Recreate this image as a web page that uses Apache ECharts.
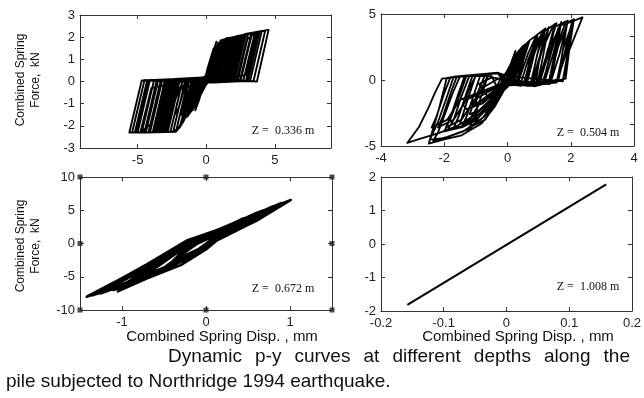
<!DOCTYPE html>
<html lang="en">
<head>
<meta charset="UTF-8">
<title>Dynamic p-y curves</title>
<script src="https://cdn.jsdelivr.net/npm/echarts@6/dist/echarts.min.js"></script>
<style>html,body{margin:0;padding:0;background:#fff;}</style>
</head>
<body>
<div id="main" style="width:644px;height:398px;"></div>
<script>
// p-y loops (disp mm, force kN)
var tlPath = [
  [0,0],[0.25,0.3],[0.7,1.2],[0.35,0.05],[0.0,0.15],[-0.5,-0.5],[-0.9,-1.0],[-0.1,0.15],
  [0.3,0.05],[1.05,1.85],[1.3,1.9],[0.45,0.02],[-0.2,0.18],[-0.7,0.15],[-1.3,-1.4],[-1.6,-1.7],[-0.7,0.12],
  [0.2,0.0],[0.6,0.02],[1.45,1.95],[1.8,1.98],[0.95,0.02],[-0.3,0.18],[-1.0,0.12],[-1.9,-2.05],[-2.2,-2.25],[-1.3,0.1],
  [0.3,-0.05],[0.9,0.02],[1.75,1.97],[2.3,2.05],[1.45,0.02],[-0.3,0.18],[-1.3,0.12],[-2.2,-2.27],[-3.0,-2.28],[-2.1,0.08],
  [0.4,-0.05],[1.3,0.02],[2.15,2.03],[2.9,2.14],[2.05,0.02],[-0.3,0.18],[-2.0,0.1],[-2.9,-2.28],[-4.4,-2.3],[-3.5,0.06],
  [0.4,-0.05],[2.0,0.02],[2.85,2.15],[3.8,2.25],[2.95,0.02],[-0.3,0.18],[-3.0,0.08],[-3.9,-2.3],[-5.6,-2.3],[-4.7,0.05],
  [0.5,-0.05],[2.9,0.02],[3.75,2.25],[4.55,2.33],[3.7,0.0],[-0.3,0.18],[-3.6,0.07],[-4.5,-2.3],[-5.2,-2.3],[-4.3,0.06],
  [0.4,-0.05],[2.5,0.02],[3.35,2.19],[3.9,2.26],[3.05,0.02],[-0.3,0.18],[-2.6,0.09],[-3.5,-2.28],[-4.1,-2.3],[-3.2,0.07],
  [0.4,-0.05],[1.8,0.02],[2.65,2.1],[3.3,2.17],[2.45,0.02],[-0.3,0.18],[-2.2,0.1],[-3.1,-2.28],[-3.6,-2.28],[-2.7,0.08],
  [0.3,-0.05],[1.5,0.02],[2.35,2.06],[2.7,2.1],[1.85,0.02],[-0.3,0.18],[-1.7,0.12],[-2.6,-2.26],[-3.3,-2.28],[-2.4,0.09],
  [0.3,-0.05],[1.1,0.02],[1.95,2.0],[2.45,2.07],[1.6,0.02],[-0.3,0.18],[-1.5,0.12],[-2.4,-2.25],[-2.8,-2.27],[-1.9,0.1],
  [0.3,-0.05],[0.8,0.02],[1.65,1.96],[2.0,2.0],[1.15,0.02],[-0.2,0.18],[-1.0,0.14],[-1.8,-1.95],[-2.4,-2.25],[-1.5,0.12],
  [0.2,0.0],[0.5,0.05],[1.3,1.9],[1.6,1.95],[0.8,0.05],[-0.2,0.2],[-0.7,0.15],[-1.5,-1.6],[-1.9,-2.0],[-1.0,0.14],
  [0.1,0.1],[0.7,1.4],[1.0,1.6],[0.3,0.1],[-0.3,-0.2],[-1.0,-1.1],[-1.2,-1.3],[-0.4,0.1],
  [0.2,0.2],[0.6,1.0],[0.2,0.1],[-0.3,-0.3],[-0.8,-0.85],[-0.2,0.1],[0,0],
  [0.4,0.9],[0.8,1.6],[0.5,0.4],[0.1,0.0],[-0.4,-0.6],[-1.0,-1.3],[-0.6,-0.3],[0,0.1],
  [0.3,0.6],[0.6,1.3],[0.3,0.3],[-0.2,-0.3],[-0.7,-1.0],[-1.4,-1.6],[-0.9,-0.5],[-0.2,0.1],
  [0.35,0.2],[0.85,1.55],[1.2,1.85],[0.5,0.15],[0,0.05],[-0.5,-0.2],[-1.1,-1.0],[-1.8,-1.9],[-1.2,-0.6],[-0.4,0.05],
  [0.2,0.15],[0.55,0.9],[0.9,1.6],[0.6,0.5],[0.2,0.1],[-0.6,0.1],[-1.2,-1.2],[-1.7,-1.85],[-1.0,0.0],[-0.3,0.15],
  [0.6,0.03],[1.2,0.05],[1.9,1.7],[2.2,2.0],[1.5,0.2],[0.5,0.0],[-0.3,0.15],[-2.0,0.05],[-2.7,-1.8],[-3.3,-2.25],[-2.6,-0.6],[-1.5,-0.1],[-0.5,0.1],
  [0.5,0.03],[2.3,0.05],[3.0,1.9],[3.6,2.2],[2.9,0.3],[0.7,0.0],[-0.3,0.15],[-3.3,0.05],[-4.0,-1.9],[-4.8,-2.3],[-4.0,-0.3],[-1.0,0.1],
  [0.3,0.1],[1.0,0.5],[1.5,1.8],[1.1,0.6],[0.4,0.2],[-0.3,-0.1],[-1.2,-0.3],[-1.7,-1.4],[-1.0,-0.6],[-0.2,0],
  [0.5,0.4],[1.4,0.3],[1.9,1.2],[1.5,0.3],[0.3,0.1],[-0.8,-0.2],[-2.2,-0.3],[-2.6,-1.4],[-2.0,-0.4],[-0.5,0.0],
  [0.2,0.3],[0.5,0.7],[0.9,1.2],[0.4,0.2],[-0.3,-0.4],[-0.6,-0.9],[-1.1,-0.8],[-0.5,-0.1],[0,0],
  [0.4,-0.03],[3.2,0.02],[4.05,2.26],[4.3,2.29],[3.45,0.02],[0.4,-0.03],[2.7,0.02],[3.55,2.19],[3.8,2.23],[2.95,0.02],
  [0.4,-0.03],[2.2,0.02],[3.05,2.12],[3.3,2.16],[2.45,0.02],[0.4,-0.03],[1.7,0.02],[2.55,2.06],[2.8,2.1],[1.95,0.02],
  [0.4,-0.03],[1.2,0.02],[2.05,1.99],[2.3,2.03],[1.45,0.02],[0.4,-0.03],[0.7,0.02],[1.55,1.92],[1.8,1.96],[0.95,0.02],
  [-0.3,0.15],[-4.2,0.06],[-5.1,-2.3],[-5.4,-2.3],[-4.5,0.06],[-0.3,0.15],[-3.8,0.07],[-4.7,-2.3],[-5.0,-2.3],[-4.1,0.07],
  [-0.3,0.15],[-3.3,0.08],[-4.2,-2.29],[-4.5,-2.3],[-3.6,0.08],[-0.3,0.15],[-2.9,0.09],[-3.8,-2.28],[-4.1,-2.29],[-3.2,0.09],
  [-0.3,0.15],[-2.5,0.1],[-3.4,-2.28],[-3.7,-2.28],[-2.8,0.1],[-0.3,0.15],[-2.0,0.11],[-2.9,-2.27],[-3.2,-2.28],[-2.3,0.11],
  [-0.3,0.15],[-1.7,0.12],[-2.3,-1.5],[-2.0,-1.2],[-1.4,0.12],[-0.3,0.15],[-1.2,0.13],[-1.8,-1.5],[-1.5,-1.2],[-0.9,0.14],
  [-0.3,0.15],[-0.8,0.14],[-1.4,-1.4],[-1.1,-1.0],[-0.5,0.15],[0,0.1],[0.6,0.9],[1.1,1.7],[0.7,0.6],[0,0],
  [0.2,0.4],[0.7,1.5],[0.4,0.5],[-0.3,-0.4],[-0.9,-1.1],[-0.4,-0.2],[0.1,0.3],[0.5,1.1],[0.9,1.75],[0.5,0.7],
  [-0.1,-0.1],[-0.6,-0.8],[-1.2,-1.4],[-0.7,-0.6],[0,0],
  [0.15,0.5],[0.45,1.3],[0.2,0.6],[-0.2,-0.1],[-0.5,-0.8],[-0.8,-1.3],[-0.35,-0.5],[0.05,0.4],[0.35,1.0],[0.75,1.8],
  [0.3,0.8],[-0.1,0.2],[-0.4,-0.3],[-0.9,-0.7],[-1.3,-1.2],[-0.6,-0.4],[-0.1,0.05],[0.1,0.6],[0.55,1.5],[0.25,0.4],[0,0]
];
var trPath = [
  [0,0],[0.15,1.2],[0.35,2.1],[0.2,0.8],[0.05,-0.2],[-0.3,-1.4],[-0.5,-2.0],[-0.3,-0.8],[-0.1,0.4],
  [0.1,1.0],[0.3,2.0],[0.7,3.0],[0.45,1.5],[0.3,-0.2],[0,-0.3],
  [-0.3,0.5],[-0.7,0.45],[-0.95,-1.0],[-1.2,-2.6],[-0.9,-2.3],[-0.5,-1.4],[-0.1,-0.2],
  [0.2,-0.35],[0.45,1.8],[0.7,3.0],[1.2,3.9],[0.95,2.0],[0.75,-0.1],[0.3,-0.4],[0,0.3],[-0.3,0.55],
  [-1.2,0.35],[-1.45,-1.2],[-1.7,-3.0],[-1.9,-3.8],[-1.4,-3.5],[-0.9,-2.8],[-0.4,-1.6],[0,-0.2],
  [0.5,-0.4],[0.8,2.2],[1.1,3.6],[1.55,4.3],[1.25,2.1],[1.05,-0.05],[0.4,-0.45],[0,0.3],[-0.3,0.55],
  [-1.5,0.3],[-1.75,-1.1],[-1.95,-2.4],[-2.2,-4.0],[-2.35,-4.6],[-1.9,-4.3],[-1.2,-3.7],[-0.6,-2.5],[-0.2,-1.0],[0,-0.2],
  [0.8,-0.4],[1.1,2.3],[1.4,3.9],[1.85,4.45],[1.5,2.2],[1.35,0.0],[0.6,-0.45],[0,0.3],[-0.3,0.55],
  [-2.07,0.1],[-2.3,-1.0],[-2.49,-2.05],[-2.8,-3.56],[-3.17,-4.77],[-2.75,-4.44],[-2.2,-4.05],[-1.6,-3.5],[-1.0,-2.6],[-0.5,-1.5],[0,-0.3],
  [1.3,-0.25],[1.6,2.5],[1.9,4.3],[2.37,4.75],[1.95,2.25],[1.84,0.1],[0.85,-0.48],[0,0.3],[-0.3,0.55],
  [-1.92,0.15],[-2.18,-2.3],[-2.49,-4.82],[-2.0,-4.5],[-1.45,-4.19],[-0.82,-3.3],[-0.41,-2.05],[0,-0.3],
  [1.0,-0.3],[1.35,2.4],[1.65,4.1],[2.1,4.6],[1.75,2.3],[1.6,0.05],[0.7,-0.45],[0,0.3],[-0.3,0.55],
  [-1.7,0.25],[-1.95,-1.5],[-2.2,-3.2],[-2.45,-4.5],[-2.0,-4.4],[-1.4,-3.9],[-0.8,-2.9],[-0.3,-1.4],[0,-0.3],
  [0.6,-0.4],[0.9,2.5],[1.2,3.9],[1.0,1.5],[0.9,-0.2],[0.3,-0.4],[0,0.3],[-0.3,0.5],
  [-1.0,0.4],[-1.25,-1.4],[-1.5,-3.3],[-1.1,-3.0],[-0.6,-2.0],[-0.2,-0.6],[0,0],
  [0.1,0.8],[0.25,1.9],[0.5,2.6],[0.3,1.1],[0.1,-0.3],[-0.2,-1.0],[-0.45,-1.8],[-0.7,-2.4],[-0.5,-1.3],[-0.2,0.2],
  [0.05,0.6],[0.3,1.6],[0.55,2.7],[0.35,1.0],[0.2,-0.3],[-0.3,0.1],[-0.8,-0.6],[-1.1,-1.8],[-0.8,-1.6],[-0.3,-0.9],[0,0],
  [0.4,-0.4],[0.65,1.5],[0.95,3.3],[0.75,1.3],[0.6,-0.3],[0.1,-0.4],[-0.3,0.5],
  [-0.6,0.45],[-0.85,-0.8],[-1.05,-1.9],[-0.7,-1.5],[-0.3,-0.7],[-0.5,0.3],[-1.3,0.3],[-1.55,-1.4],[-1.8,-2.9],[-2.0,-3.9],[-1.5,-3.6],[-0.9,-2.6],[-0.3,-1.2],[0,0],
  [1.1,-0.3],[1.35,1.8],[1.6,3.9],[1.45,1.5],[1.3,-0.2],[0.5,-0.4],
  [1.6,-0.1],[1.8,2.0],[2.05,4.5],[1.9,2.0],[1.75,0.0],[0.5,-0.4],[0,0],
  [-0.3,0.5],[-1.0,0.35],[-1.2,-0.6],[-1.4,-1.9],[-1.3,-2.2],[-0.8,-1.8],[-0.2,-0.6],[0.1,0.4],[0.3,1.5],[0.6,2.2],[0.25,0.3],[0,0],
  [0.3,-0.4],[0.15,-0.3],[0.45,2.0],[0.7,3.0],[0.5,1.5],[0.35,-0.2],[0.3,-0.4],[0.35,-0.3],[0.65,2.0],[0.9,3.3],[0.7,1.5],[0.55,-0.2],
  [0.3,-0.4],[0.55,-0.3],[0.85,2.0],[1.1,3.6],[0.9,1.5],[0.75,-0.2],[0.3,-0.4],[0.75,-0.3],[1.05,2.0],[1.3,4.0],[1.1,1.5],[0.95,-0.2],
  [0.3,-0.4],[0.95,-0.3],[1.25,2.0],[1.5,4.25],[1.3,1.5],[1.15,-0.2],[0.3,-0.4],[1.15,-0.3],[1.45,2.0],[1.7,4.4],[1.5,1.5],[1.35,-0.2],
  [0.3,-0.4],[1.35,-0.3],[1.65,2.0],[1.9,4.5],[1.7,1.5],[1.55,-0.2],[0.3,-0.4],[1.55,-0.2],[1.85,2.0],[2.1,4.6],[1.9,1.5],[1.75,-0.1],
  [0,0.3],[-0.3,0.5],[-0.6,0.45],[-0.8,-1.0],[-1.05,-2.8],[-1.2,-3.6],[-0.7,-3.0],[-0.3,-1.5],[-0.1,-0.2],
  [-0.3,0.5],[-0.85,0.42],[-1.05,-1.0],[-1.3,-2.8],[-1.45,-3.6],[-0.95,-3.0],[-0.55,-1.5],[-0.1,-0.2],
  [-0.3,0.5],[-1.1,0.37],[-1.3,-1.0],[-1.55,-2.8],[-1.7,-3.6],[-1.2,-3.0],[-0.8,-1.5],[-0.1,-0.2],
  [-0.3,0.5],[-1.35,0.32],[-1.55,-1.0],[-1.8,-2.8],[-1.95,-3.6],[-1.45,-3.0],[-1.05,-1.5],[-0.1,-0.2],
  [-0.3,0.5],[-1.6,0.27],[-1.8,-1.0],[-2.05,-2.8],[-2.2,-3.6],[-1.7,-3.0],[-1.3,-1.5],[-0.1,-0.2],
  [-0.3,0.5],[-1.8,0.22],[-2.0,-1.0],[-2.25,-2.8],[-2.4,-3.6],[-1.9,-3.0],[-1.5,-1.5],[-0.1,-0.2],[0,0],
  [0.2,1.4],[0.45,2.4],[0.25,1.0],[0.0,0.0],[-0.25,-1.0],[-0.55,-2.2],[-0.35,-1.0],[-0.1,0.3],[0.1,1.2],[0.25,2.2],
  [0.05,0.7],[-0.15,-0.4],[-0.4,-1.4],[-0.65,-1.2],[-0.9,-0.3],[-0.5,0.2],[0,0]
];
var blPath = [
  [-1.42,-8.0],[-1.0,-5.2],[-0.7,-3.1],[-0.22,0.5],[0.1,1.9],[0.2,2.4],[0.5,4.0],[1.01,6.54],
  [0.6,3.4],[0.3,1.6],[0.15,0.8],[-0.05,-0.9],[-0.4,-3.2],[-0.74,-5.0],[-1.42,-8.0],
  [-1.1,-5.9],[-0.75,-3.5],[-0.3,-0.3],[0.05,1.5],[0.45,3.6],[0.85,5.6],
  [0.5,3.0],[0.2,1.2],[0.0,-0.9],[-0.3,-3.25],[-0.7,-5.25],[-1.05,-7.2],
  [-0.92,-5.9],[-0.6,-3.2],[-0.2,-0.1],[0.15,1.9],[0.6,4.3],
  [0.3,2.0],[0.05,0.2],[-0.25,-2.2],[-0.6,-4.4],[-1.2,-7.2],
  [-0.9,-5.0],[-0.5,-2.3],[-0.15,0.4],[0.2,2.1],[0.75,4.9],
  [0.4,2.4],[0.12,0.6],[-0.15,-1.6],[-0.5,-3.8],[-1.3,-7.6],
  [-0.95,-5.1],[-0.55,-2.5],[-0.25,0.0],[0.1,1.7],[0.6,4.6],[0.95,6.2],
  [0.55,3.1],[0.2,1.0],[-0.1,-1.3],[-0.45,-3.6],[-1.0,-6.5],
  [-0.8,-4.5],[-0.45,-2.0],[-0.1,0.6],[0.3,2.8],
  [0.1,0.9],[-0.15,-1.4],[-0.5,-3.6],[-0.85,-5.5],
  [-0.6,-3.7],[-0.3,-1.0],[0.0,1.0],[0.35,2.7],[0.05,0.4],[-0.2,-1.9],[-0.55,-4.1],
  [-0.35,-2.2],[-0.1,0.0],[0.25,2.0],[0.7,4.4],[0.4,2.2],[0.1,0.3],[-0.2,-1.5],[-0.4,-2.7],
  [-0.3,-1.4],[0.0,0.8],[0.4,3.2],[0.85,5.7],[0.45,2.6],[0.15,0.7],[-0.2,-1.9],[-0.65,-4.7],[-1.35,-7.8],
  [-1.05,-5.6],[-0.65,-2.9],[-0.3,-0.5],[0.05,1.6],[0.5,4.0],[0.9,6.1],
  [0.5,2.8],[0.15,0.6],[-0.15,-1.8],[-0.55,-4.4],[-1.1,-7.0],
  [-0.8,-4.8],[-0.45,-2.3],[-0.2,0.2],[0.15,2.0],[0.45,3.8],
  [0.25,1.6],[0.0,-0.3],[-0.35,-2.9],[-0.7,-5.0],[-1.25,-7.5],
  [-0.85,-4.4],[-0.35,-1.0],[0.05,1.3],[0.55,4.2],[0.8,5.6],[0.35,2.1],[0.05,0.0],[-0.3,-2.6],[-0.65,-4.8]
];
var brPath = [[-0.158,-1.82],[0.159,1.78]];
var blMarks = [[-1.5,10],[-1.5,0],[-1.5,-10],[1.5,10],[1.5,0],[1.5,-10],[0,10],[0,-10]];

var tlXTicks = [-5,0,5], tlYTicks = [-3,-2,-1,0,1,2,3];
var trXTicks = [-4,-2,0,2,4], trYTicks = [-5,0,5];
var trYMinor = [-5,-3.33,-1.67,0,1.67,3.33,5];
var blXTicks = [-1,0,1], blYTicks = [-10,-5,0,5,10];
var brXTicks = [-0.2,-0.1,0,0.1,0.2], brYTicks = [-2,-1,0,1,2];
var zLabels = ['Z =  0.336 m', 'Z =  0.504 m', 'Z =  0.672 m', 'Z =  1.008 m'];
var captionWords = ['Dynamic', 'p-y', 'curves', 'at', 'different', 'depths', 'along', 'the'];
var captionLine2 = 'pile subjected to Northridge 1994 earthquake.';

var myChart = echarts.init(document.getElementById('main'));
var axisCol = '#333';
var lbl = {fontFamily: 'Liberation Sans', fontSize: 13, color: '#222'};

var xAxes = [], yAxes = [];
function addAxes(gi, xr, yr, xt, yt, xt2, yt2) {
    var line = {onZero: false, lineStyle: {color: axisCol, width: 1}};
    xAxes.push({gridIndex: gi, type: 'value', position: 'bottom', min: xr[0], max: xr[1],
        axisLine: line, splitLine: {show: false},
        axisTick: {inside: true, length: 4, customValues: xt, lineStyle: {color: axisCol}},
        axisLabel: Object.assign({customValues: xt, margin: 6}, lbl)});
    xAxes.push({gridIndex: gi, type: 'value', position: 'top', min: xr[0], max: xr[1],
        axisLine: line, splitLine: {show: false},
        axisTick: {inside: true, length: 4, customValues: xt2, lineStyle: {color: axisCol}},
        axisLabel: {show: false}});
    yAxes.push({gridIndex: gi, type: 'value', position: 'left', min: yr[0], max: yr[1],
        axisLine: line, splitLine: {show: false},
        axisTick: {inside: true, length: 4, customValues: yt, lineStyle: {color: axisCol}},
        axisLabel: Object.assign({customValues: yt, margin: 5}, lbl)});
    yAxes.push({gridIndex: gi, type: 'value', position: 'right', min: yr[0], max: yr[1],
        axisLine: line, splitLine: {show: false},
        axisTick: {inside: true, length: 4, customValues: yt2, lineStyle: {color: axisCol}},
        axisLabel: {show: false}});
}
addAxes(0, [-9.2, 9.1], [-3, 3], tlXTicks, tlYTicks, tlXTicks, tlYTicks);
addAxes(1, [-4, 4], [-5, 5], trXTicks, trYTicks, trXTicks, trYMinor);
addAxes(2, [-1.5, 1.5], [-10, 10], blXTicks, blYTicks, blXTicks, blYTicks);
addAxes(3, [-0.2, 0.2], [-2, 2], brXTicks, brYTicks, brXTicks, brYTicks);

function loop(gi, data, w) {
    return {type: 'line', xAxisIndex: gi * 2, yAxisIndex: gi * 2, data: data,
        symbol: 'none', showSymbol: false, animation: false,
        lineStyle: {color: '#000', width: w, join: 'round'}};
}

var yName = 'Combined Spring\nForce,  kN';
var xName = 'Combined Spring Disp. , mm';
function txt(x, y, s, font, extra) {
    return Object.assign({type: 'text', x: x, y: y, silent: true,
        style: {text: s, font: font, fill: '#111', textAlign: 'center', textVerticalAlign: 'middle',
            align: 'center', verticalAlign: 'middle', lineHeight: 15}}, extra || {});
}

// justified first caption line, spread from x=168 to x=630
var capFont = '19px "Liberation Sans"';
var ctx = document.createElement('canvas').getContext('2d');
ctx.font = capFont;
var wordW = captionWords.map(function (w) { return ctx.measureText(w).width; });
var gap = (630 - 168 - wordW.reduce(function (a, b) { return a + b; }, 0)) / (captionWords.length - 1);
var capGraphics = [];
var cx = 168;
captionWords.forEach(function (w, i) {
    capGraphics.push({type: 'text', x: cx, y: 347, silent: true,
        style: {text: w, font: capFont, fill: '#111'}});
    cx += wordW[i] + gap;
});
capGraphics.push({type: 'text', x: 6, y: 372, silent: true,
    style: {text: captionLine2, font: capFont, fill: '#111'}});

var option = {
    backgroundColor: '#fff',
    animation: false,
    grid: [
        {left: 80, top: 15, width: 251, height: 133},
        {left: 381, top: 14, width: 253, height: 132},
        {left: 80, top: 177, width: 252, height: 133},
        {left: 381, top: 177, width: 252, height: 134}
    ],
    xAxis: xAxes,
    yAxis: yAxes,
    series: [
        loop(0, tlPath, 1.9),
        loop(1, trPath, 1.8),
        loop(2, blPath, 2.5),
        loop(3, brPath, 2),
        {type: 'scatter', xAxisIndex: 4, yAxisIndex: 4, data: blMarks, symbol: 'rect',
            symbolSize: 5, clip: false, itemStyle: {color: '#222'}, animation: false}
    ],
    graphic: [
        txt(28, 80, yName, '12px "Liberation Sans"', {rotation: Math.PI / 2}),
        txt(28, 246, yName, '12px "Liberation Sans"', {rotation: Math.PI / 2}),
        txt(222, 337, xName, '15px "Liberation Sans"'),
        txt(518, 337, xName, '15px "Liberation Sans"'),
        txt(283, 131, zLabels[0], '12px "Liberation Serif"'),
        txt(588, 133, zLabels[1], '12px "Liberation Serif"'),
        txt(283, 289, zLabels[2], '12px "Liberation Serif"'),
        txt(588, 287, zLabels[3], '12px "Liberation Serif"')
    ].concat(capGraphics)
};

myChart.setOption(option);
</script>
</body>
</html>
